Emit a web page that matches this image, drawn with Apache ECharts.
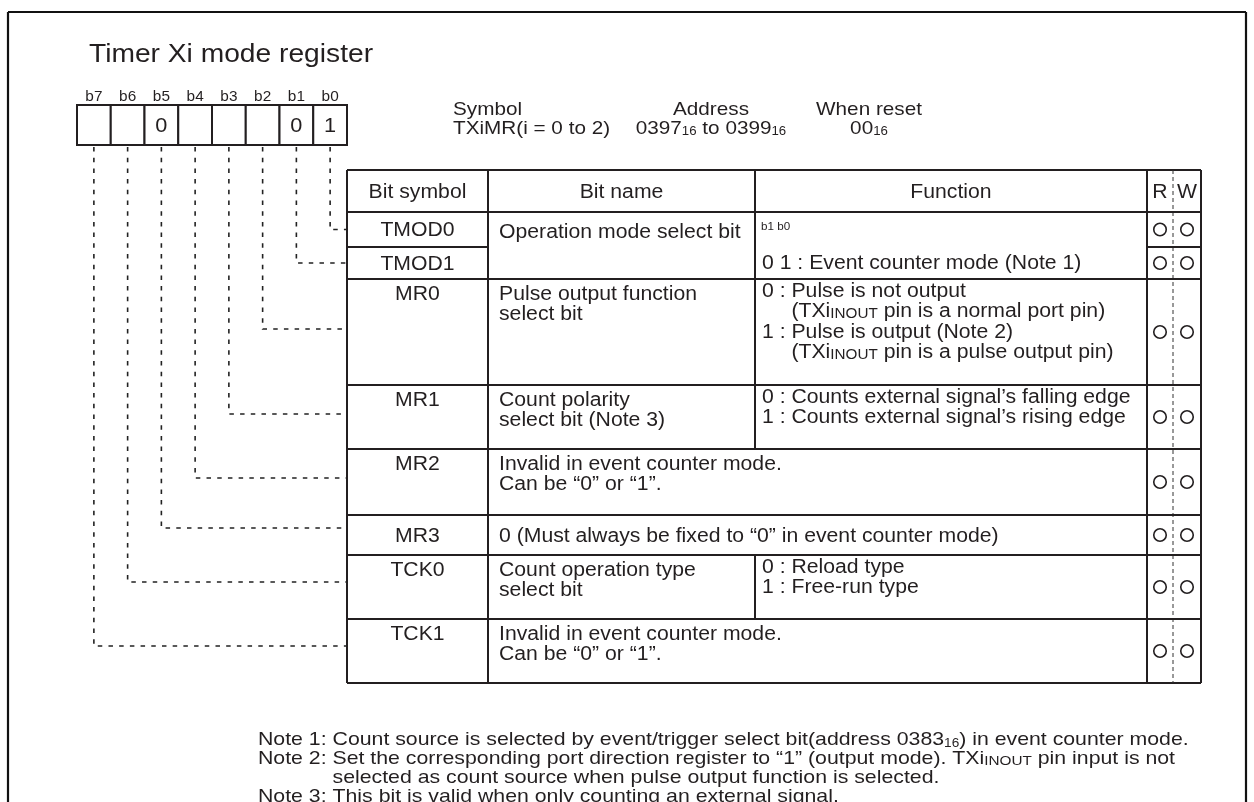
<!DOCTYPE html>
<html><head><meta charset="utf-8">
<script src="https://cdn.jsdelivr.net/npm/echarts@6/dist/echarts.min.js"></script>
<style>html,body{margin:0;padding:0;background:#fff}#c{width:1254px;height:802px}</style>
</head><body><div id="c"></div>
<script>
// ---------------- content ----------------
const title = 'Timer Xi mode register';
const bitLabels = ['b7', 'b6', 'b5', 'b4', 'b3', 'b2', 'b1', 'b0'];
const bitValues = ['', '', '0', '', '', '', '0', '1'];
const symbolHeaders = ['Symbol', 'Address', 'When reset'];
const symbolValues = ['TXiMR(i = 0 to 2)', '0397{s|16} to 0399{s|16}', '00{s|16}'];
const tableHeaders = ['Bit symbol', 'Bit name', 'Function', 'R', 'W'];
const bitSymbols = ['TMOD0', 'TMOD1', 'MR0', 'MR1', 'MR2', 'MR3', 'TCK0', 'TCK1'];
const rowBits = [0, 1, 2, 3, 4, 5, 6, 7];           // register bit each row belongs to
const CONT = '^';     // cell continues from the row above
const WIDE = '<';     // cell merged into the bit-name cell
const bitNames = [
  ['Operation mode select bit'], CONT,
  ['Pulse output function', 'select bit'],
  ['Count polarity', 'select bit (Note 3)'],
  ['Invalid in event counter mode.', 'Can be \u201c0\u201d or \u201c1\u201d.'],
  ['0 (Must always be fixed to \u201c0\u201d in event counter mode)'],
  ['Count operation type', 'select bit'],
  ['Invalid in event counter mode.', 'Can be \u201c0\u201d or \u201c1\u201d.']
];
const bitFunctions = [
  ['{t|b1 b0}', '0 1 : Event counter mode (Note 1)'], CONT,
  ['0 : Pulse is not output', '(TXi{c|INOUT} pin is a normal port pin)', '1 : Pulse is output (Note 2)', '(TXi{c|INOUT} pin is a pulse output pin)'],
  ['0 : Counts external signal\u2019s falling edge', '1 : Counts external signal\u2019s rising edge'],
  WIDE, WIDE,
  ['0 : Reload type', '1 : Free-run type'],
  WIDE
];
const readable = [1, 1, 1, 1, 1, 1, 1, 1];
const writable = [1, 1, 1, 1, 1, 1, 1, 1];
const notes = [
  ['Note 1: ', 'Count source is selected by event/trigger select bit(address 0383{s|16}) in event counter mode.'],
  ['Note 2: ', 'Set the corresponding port direction register to \u201c1\u201d (output mode). TXi{c|INOUT} pin input is not', 'selected as count source when pulse output function is selected.'],
  ['Note 3: ', 'This bit is valid when only counting an external signal.']
];

// ---------------- layout (geometry only) ----------------
const W = 1254, H = 802;
const FONT = '"Liberation Sans", Arial, Helvetica, sans-serif';
const INK = '#231f20';
const TS = 1.06;   // horizontal text stretch of the original artwork
const LAY = {
  frame: { l: 8, t: 12, r: 1246, b: 802 },
  title: { x: 89, y: 55, size: 26.6 },
  bits: { x0: 77, x1: 347, top: 105, bottom: 145, labelY: 97, labelSize: 14.5, valSize: 20.5 },
  sym: { x: [453, 711, 869], align: ['left', 'center', 'center'], y1: 110, y2: 128.5, size: 19, sx: 1.09 },
  tab: { cols: [347, 488, 755, 1147, 1201], rw: [1160, 1187], rwMid: 1173, top: 170, headH: 42,
         rowH: [35, 32, 106, 64, 66, 40, 64, 64], size: 20, line: 20.5, padName: 11, padFunc: 7 },
  connOff: [0, 0, -3, -3, -4, -7, -5, -5],
  notes: { x: 258, y: 740, line: 18.8, size: 19, sx: 1.12 },
  connGap: 2
};

// ---------------- helpers ----------------
const mctx = document.createElement('canvas').getContext('2d');
function textWidth(str, size, sx) { mctx.font = size + 'px ' + FONT; return mctx.measureText(str).width * (sx || TS); }
function rich(size) {
  return {
    s: { fontSize: size * 0.64, fontFamily: FONT, fill: INK, verticalAlign: 'bottom' },
    c: { fontSize: size * 0.72, fontFamily: FONT, fill: INK, verticalAlign: 'bottom' },
    t: { fontSize: size * 0.55, fontFamily: FONT, fill: INK }
  };
}

const T = LAY.tab;
const rowTop = []; { let y = T.top + T.headH; T.rowH.forEach(h => { rowTop.push(y); y += h; }); }
const tabBottom = rowTop[rowTop.length - 1] + T.rowH[T.rowH.length - 1];
const rowMid = rowTop.map((t, i) => t + T.rowH[i] / 2);
const boxW = (LAY.bits.x1 - LAY.bits.x0) / bitLabels.length;
const bitCx = i => LAY.bits.x0 + boxW * (i + 0.5);

// ---- segments: [x1,y1,x2,y2] + style kind ----
const segs = [], segKind = [];
function seg(x1, y1, x2, y2, k) { segs.push([x1, y1, x2, y2]); segKind.push(k || 'solid'); }
const F = LAY.frame;
seg(F.l, F.t, F.r, F.t, 'frame'); seg(F.l, F.t, F.l, F.b, 'frame'); seg(F.r, F.t, F.r, F.b, 'frame');
const C = T.cols;
seg(C[0], T.top, C[4], T.top); seg(C[0], tabBottom, C[4], tabBottom);
seg(C[0], T.top, C[0], tabBottom); seg(C[4], T.top, C[4], tabBottom);
seg(C[1], T.top, C[1], tabBottom); seg(C[3], T.top, C[3], tabBottom);
seg(C[2], T.top, C[2], rowTop[0]);
seg(T.rwMid, T.top, T.rwMid, tabBottom, 'thin');
bitSymbols.forEach((s, i) => {
  const cont = bitNames[i] === CONT;
  if (cont) { seg(C[0], rowTop[i], C[1], rowTop[i]); seg(C[3], rowTop[i], C[4], rowTop[i]); }
  else seg(C[0], rowTop[i], C[4], rowTop[i]);
  if (bitFunctions[i] !== WIDE) seg(C[2], rowTop[i], C[2], rowTop[i] + T.rowH[i]);
});

// ---- bit boxes ----
const boxes = bitLabels.map((b, i) => [LAY.bits.x0 + boxW * i, LAY.bits.top, LAY.bits.x0 + boxW * (i + 1), LAY.bits.bottom]);

// ---- connectors: [x, yStart, yEnd, xEnd] ----
const conns = bitSymbols.map((s, i) => {
  const idx = bitLabels.length - 1 - rowBits[i];
  return [bitCx(idx), LAY.bits.bottom + LAY.connGap, rowMid[i] + LAY.connOff[i], C[0]];
});

// ---- texts ----
const texts = [];
function txt(x, y, text, size, align, sx) { texts.push({ value: [x, y], text, size, align: align || 'left', sx: sx || TS }); }
txt(LAY.title.x, LAY.title.y, title, LAY.title.size);
bitLabels.forEach((b, i) => { txt(bitCx(i), LAY.bits.labelY, b, LAY.bits.labelSize, 'center');
  if (bitValues[i]) txt(bitCx(i), (LAY.bits.top + LAY.bits.bottom) / 2 + 1, bitValues[i], LAY.bits.valSize, 'center'); });
symbolHeaders.forEach((h, i) => txt(LAY.sym.x[i], LAY.sym.y1, h, LAY.sym.size, LAY.sym.align[i], LAY.sym.sx));
symbolValues.forEach((h, i) => txt(LAY.sym.x[i], LAY.sym.y2, h, LAY.sym.size, LAY.sym.align[i], LAY.sym.sx));
const headY = T.top + T.headH / 2 + 1;
txt((C[0] + C[1]) / 2, headY, tableHeaders[0], T.size, 'center');
txt((C[1] + C[2]) / 2, headY, tableHeaders[1], T.size, 'center');
txt((C[2] + C[3]) / 2, headY, tableHeaders[2], T.size, 'center');
txt(T.rw[0], headY, tableHeaders[3], T.size, 'center');
txt(T.rw[1], headY, tableHeaders[4], T.size, 'center');
const indentF = textWidth('0 : ', T.size);
bitSymbols.forEach((s, i) => {
  const multi = T.rowH[i] > 45;
  const y0 = multi ? rowTop[i] + 15 : rowMid[i] + 1;
  txt((C[0] + C[1]) / 2, y0, s, T.size, 'center');
  const nm = bitNames[i];
  if (nm !== CONT) {
    const spans = (i + 1 < bitNames.length && bitNames[i + 1] === CONT);
    const ny = spans ? rowMid[i] + 3 : y0;
    nm.forEach((ln, k) => txt(C[1] + T.padName, ny + k * T.line, ln, T.size));
  }
  const fn = bitFunctions[i];
  if (fn !== CONT && fn !== WIDE) {
    const spans = (i + 1 < bitFunctions.length && bitFunctions[i + 1] === CONT);
    if (spans) {
      txt(C[2] + T.padFunc - 1, rowMid[i] - 3, fn[0], T.size);
      txt(C[2] + T.padFunc, rowMid[i + 1], fn[1], T.size);
    } else {
      const fy = multi ? rowTop[i] + 12 : rowMid[i] + 1;
      fn.forEach((ln, k) => txt(C[2] + T.padFunc + (ln[0] === '(' ? indentF : 0), fy + k * T.line, ln, T.size));
    }
  }
});
{
  const N = LAY.notes;
  let y = N.y;
  notes.forEach(n => {
    const ind = textWidth(n[0], N.size, N.sx);
    n.slice(1).forEach((ln, k) => {
      txt(N.x + (k === 0 ? 0 : ind), y, k === 0 ? n[0] + ln : ln, N.size, 'left', N.sx);
      y += N.line;
    });
  });
}

// ---- read / write marks ----
const rwPoints = [];
bitSymbols.forEach((s, i) => {
  const y = rowMid[i];
  if (readable[i]) rwPoints.push([T.rw[0], y]);
  if (writable[i]) rwPoints.push([T.rw[1], y]);
});

// ---------------- chart ----------------
const chart = echarts.init(document.getElementById('c'), null, { renderer: 'canvas', width: W, height: H });
const option = {
  animation: false,
  backgroundColor: '#ffffff',
  grid: { left: 0, right: 0, top: 0, bottom: 0 },
  xAxis: { type: 'value', min: 0, max: W, show: false },
  yAxis: { type: 'value', min: 0, max: H, inverse: true, show: false },
  series: [
    { type: 'custom', name: 'lines', silent: true, clip: false, data: segs,
      encode: { x: [0, 2], y: [1, 3] },
      renderItem(params, api) {
        const a = api.coord([api.value(0), api.value(1)]), b = api.coord([api.value(2), api.value(3)]);
        const k = segKind[params.dataIndex];
        const st = k === 'thin' ? { stroke: '#333', lineWidth: 1, lineDash: [4, 3] }
                 : k === 'frame' ? { stroke: '#111', lineWidth: 2.2 }
                 : { stroke: INK, lineWidth: 2 };
        return { type: 'line', shape: { x1: a[0], y1: a[1], x2: b[0], y2: b[1] }, style: st };
      } },
    { type: 'custom', name: 'connectors', silent: true, clip: false, data: conns,
      encode: { x: [0, 3], y: [1, 2] },
      renderItem(params, api) {
        const x = api.value(0), y0 = api.value(1), y1 = api.value(2), x1 = api.value(3);
        const pts = [api.coord([x, y0]), api.coord([x, y1]), api.coord([x1, y1])];
        return { type: 'polyline', shape: { points: pts },
          style: { stroke: '#222', lineWidth: 1.6, lineDash: [4.5, 6.2], fill: null } };
      } },
    { type: 'custom', name: 'bitBoxes', silent: true, clip: false, data: boxes,
      encode: { x: [0, 2], y: [1, 3] },
      renderItem(params, api) {
        const a = api.coord([api.value(0), api.value(1)]), b = api.coord([api.value(2), api.value(3)]);
        return { type: 'rect', shape: { x: a[0], y: a[1], width: b[0] - a[0], height: b[1] - a[1] },
          style: { fill: '#fff', stroke: INK, lineWidth: 2 } };
      } },
    { type: 'scatter', name: 'rw', silent: true, data: rwPoints, symbol: 'circle', symbolSize: 12.5,
      itemStyle: { color: '#fff', borderColor: INK, borderWidth: 1.6, opacity: 1 }, z: 5 },
    { type: 'custom', name: 'texts', silent: true, clip: false, data: texts.map(t => t.value), z: 6,
      encode: { x: 0, y: 1 },
      renderItem(params, api) {
        const t = texts[params.dataIndex];
        const p = api.coord([api.value(0), api.value(1)]);
        return { type: 'text', x: p[0], y: p[1], scaleX: t.sx,
          style: { text: t.text, fontSize: t.size, fontFamily: FONT, fill: INK,
                   align: t.align, verticalAlign: 'middle', textAlign: t.align, textVerticalAlign: 'middle',
                   rich: rich(t.size) } };
      } }
  ]
};
chart.setOption(option);
</script>
</body></html>
